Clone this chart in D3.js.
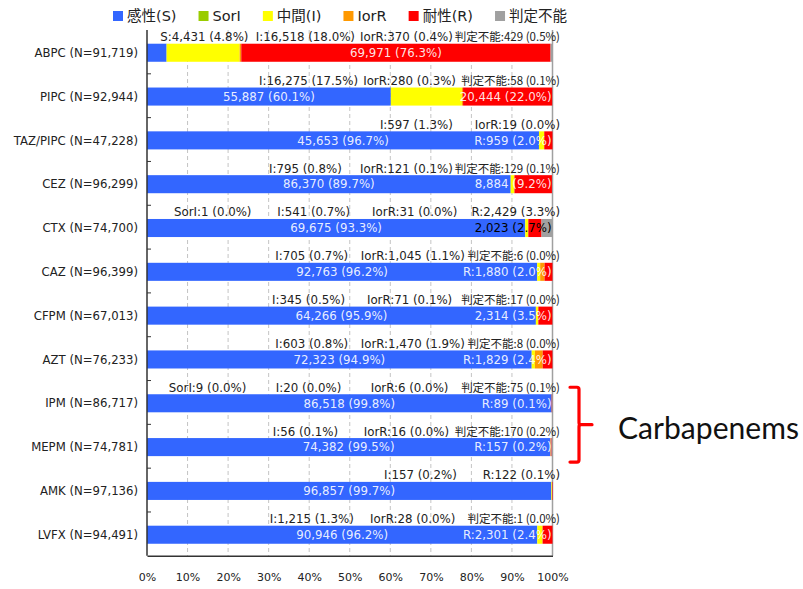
<!DOCTYPE html>
<html><head><meta charset="utf-8">
<script src="https://cdn.jsdelivr.net/npm/d3@7"></script>
<style>body{margin:0;background:#fff;} svg{display:block;}</style>
</head><body>
<svg id="chart" width="803" height="589"></svg>
<script>
// ---------------- data ----------------
const drugs = ["ABPC","PIPC","TAZ/PIPC","CEZ","CTX","CAZ","CFPM","AZT","IPM","MEPM","AMK","LVFX"];
const seriesNames = ["感性(S)","SorI","中間(I)","IorR","耐性(R)","判定不能"];
const seriesShort = ["S","SorI","I","IorR","R","判定不能"];
const seriesColors = ["#3366FF","#99CC00","#FFFF00","#FF9900","#FF0000","#A0A0A0"];
const valS    = [4431,55887,45653,86370,69675,92763,64266,72323,86518,74382,96857,90946];
const valSorI = [0,0,0,0,1,0,0,0,9,0,0,0];
const valI    = [16518,16275,597,795,541,705,345,603,20,56,157,1215];
const valIorR = [370,280,19,121,31,1045,71,1470,6,16,0,28];
const valR    = [69971,20444,959,8884,2429,1880,2314,1829,89,157,122,2301];
const valND   = [429,58,0,129,2023,6,17,8,75,170,0,1];
// label mode per segment: "in" = inside, "inP" = inside with prefix, "up" = above bar, "" = none
const modeS    = ["up","in","in","in","in","in","in","in","in","in","in","in"];
const modeSorI = ["","","","","up","","","","up","","",""];
const modeI    = ["up","up","up","up","up","up","up","up","up","up","up","up"];
const modeIorR = ["up","up","up","up","up","up","up","up","up","up","","up"];
const modeR    = ["in","in","inP","in","up","inP","in","inP","inP","inP","up","inP"];
const modeND   = ["up","up","","up","in","up","up","up","up","up","","up"];
const xTicks = [0,10,20,30,40,50,60,70,80,90,100];
const groupLabel = "Carbapenems";
const groupDrugs = ["IPM","MEPM"];

// ---------------- setup ----------------
const seriesVals = [valS,valSorI,valI,valIorR,valR,valND];
const seriesModes = [modeS,modeSorI,modeI,modeIorR,modeR,modeND];
const fmtN = d3.format(",");
const fmtP = d3.format(".1f");
const rows = drugs.map((d,i)=>{
  const o = {drug:d};
  seriesShort.forEach((k,j)=>{ o[k] = seriesVals[j][i]; });
  o.N = d3.sum(seriesVals, a=>a[i]);
  return o;
});

const svg = d3.select("#chart");
const X0 = 147, X1 = 552.5, Y0 = 30, Y1 = 555.8;
const x = d3.scaleLinear().domain([0,100]).range([X0,X1]);
const y = d3.scaleBand().domain(drugs).range([Y0,Y1]).padding(0);
const bw = y.bandwidth();
const barOff = bw*0.313, barH = bw*0.412;
const LATIN = "'DejaVu Sans','Noto Sans CJK JP',sans-serif";
const CJK = "'Noto Sans CJK JP','DejaVu Sans',sans-serif";

// gridlines
svg.append("g").selectAll("line").data(xTicks.filter(t=>t>0 && t<100)).join("line")
  .attr("x1",d=>x(d)).attr("x2",d=>x(d)).attr("y1",Y0).attr("y2",Y1)
  .attr("stroke","#c4c4c4").attr("stroke-width",1).attr("stroke-dasharray","4,3");
// right border
svg.append("line").attr("x1",x(100)).attr("x2",x(100)).attr("y1",Y0).attr("y2",Y1)
  .attr("stroke","#a0a0a0").attr("stroke-width",1.5);

// stacked bars
const stack = d3.stack().keys(seriesShort).offset(d3.stackOffsetExpand);
const layers = stack(rows);
const gBars = svg.append("g");
layers.forEach((layer,j)=>{
  gBars.append("g").attr("fill",seriesColors[j]).selectAll("rect").data(layer).join("rect")
    .attr("x",d=>x(d[0]*100)).attr("width",d=>Math.max(0,x(d[1]*100)-x(d[0]*100)))
    .attr("y",d=>y(d.data.drug)+barOff).attr("height",barH);
});

// axes
const yAxis = svg.append("g").attr("transform",`translate(${X0},0)`)
  .call(d3.axisLeft(y).tickSize(0).tickPadding(9).tickFormat((d,i)=>`${d} (N=${fmtN(rows[i].N)})`));
yAxis.select(".domain").remove();
yAxis.selectAll("text").attr("font-family",LATIN).attr("font-size","11.7px").attr("fill","#222")
  .attr("y", barOff + barH/2 - bw/2).attr("dy","0.36em");
// band boundary ticks
svg.append("g").selectAll("line").data(drugs.slice(1)).join("line")
  .attr("x1",X0).attr("x2",X0+4).attr("y1",d=>y(d)).attr("y2",d=>y(d))
  .attr("stroke","#333").attr("stroke-width",1);
svg.append("line").attr("x1",X0).attr("x2",X0).attr("y1",Y0).attr("y2",Y1)
  .attr("stroke","#333").attr("stroke-width",1.5);
const xAxis = svg.append("g").attr("transform",`translate(0,${Y1})`)
  .call(d3.axisBottom(x).tickValues(xTicks).tickSize(0).tickPadding(17).tickFormat(d=>d+"%"));
xAxis.select(".domain").attr("stroke","#333").attr("stroke-width",1.5);
xAxis.selectAll("text").attr("font-family",LATIN).attr("font-size","11px").attr("fill","#222");

// labels
const gLab = svg.append("g");
const SPACING = 101, RIGHT = 560;
rows.forEach((r,i)=>{
  const top = y(r.drug)+barOff;
  const mid = top + barH/2;
  const ups = [];
  layers.forEach((layer,j)=>{
    const v = seriesVals[j][i];
    const mode = seriesModes[j][i];
    if (!mode || !v) return;
    const d = layer[i];
    const pctTxt = fmtP(v/r.N*100);
    const body = `${fmtN(v)} (${pctTxt}%)`;
    if (mode === "up") {
      const isCJK = j === 5;
      const t = gLab.append("text").text(`${seriesShort[j]}:${body}`)
        .attr("font-family", isCJK ? CJK : LATIN)
        .attr("font-size", isCJK ? "11.5px" : "11.8px")
        .attr("fill","#222").attr("y", top-2.5).attr("text-anchor","middle");
      ups.push(t);
    } else {
      const txt = mode === "inP" ? `${seriesShort[j]}:${body}` : body;
      const t = gLab.append("text").text(txt)
        .attr("font-family",LATIN).attr("font-size","11.8px")
        .attr("fill", j===5 ? "#000" : "#fff").attr("fill-opacity", j===5 ? 1 : 0.9)
        .attr("y", mid).attr("dy","0.36em");
      const w = t.node().getComputedTextLength();
      let left = x((d[0]+d[1])/2*100) - w/2;
      if (left + w > X1 - 1) left = X1 - 1 - w;
      if (left < X0 + 2) left = X0 + 2;
      t.attr("x", left);
    }
  });
  if (ups.length) {
    const n = ups.length;
    const wLast = ups[n-1].node().getComputedTextLength();
    const cLast = RIGHT - wLast/2;
    ups.forEach((t,k)=> t.attr("x", cLast - SPACING*(n-1-k)));
  }
});

// legend
const gLeg = svg.append("g");
let lx = 113;
seriesNames.forEach((s,j)=>{
  gLeg.append("rect").attr("x",lx).attr("y",11).attr("width",10).attr("height",10).attr("fill",seriesColors[j]);
  const t = gLeg.append("text").attr("x",lx+14).attr("y",21).text(s)
    .attr("font-family",LATIN).attr("font-size","14.5px").attr("fill","#222");
  lx += 14 + t.node().getComputedTextLength() + 22;
});

// carbapenems bracket
const bTop = y(groupDrugs[0]) + barOff - 7;
const bBot = y(groupDrugs[groupDrugs.length-1]) + barOff + barH + 6;
const bMid = (bTop + bBot)/2;
const bx = 579;
svg.append("path")
  .attr("d", `M${bx-9},${bTop} H${bx-2} Q${bx},${bTop} ${bx},${bTop+2} V${bMid-2} Q${bx},${bMid} ${bx+2},${bMid} H${bx+13} M${bx+2},${bMid} Q${bx},${bMid} ${bx},${bMid+2} V${bBot-2} Q${bx},${bBot} ${bx-2},${bBot} H${bx-9}`)
  .attr("fill","none").attr("stroke","#FF0000").attr("stroke-width",3.2).attr("stroke-linecap","round").attr("stroke-linejoin","round");
const ct = svg.append("text").attr("x",618).attr("y",bMid+14).text(groupLabel)
  .attr("font-family","Lato, 'Open Sans', sans-serif").attr("font-size","30px").attr("fill","#111");
const cw = ct.node().getComputedTextLength();
ct.attr("font-size", (30*181/cw).toFixed(2)+"px");
</script>
</body></html>
